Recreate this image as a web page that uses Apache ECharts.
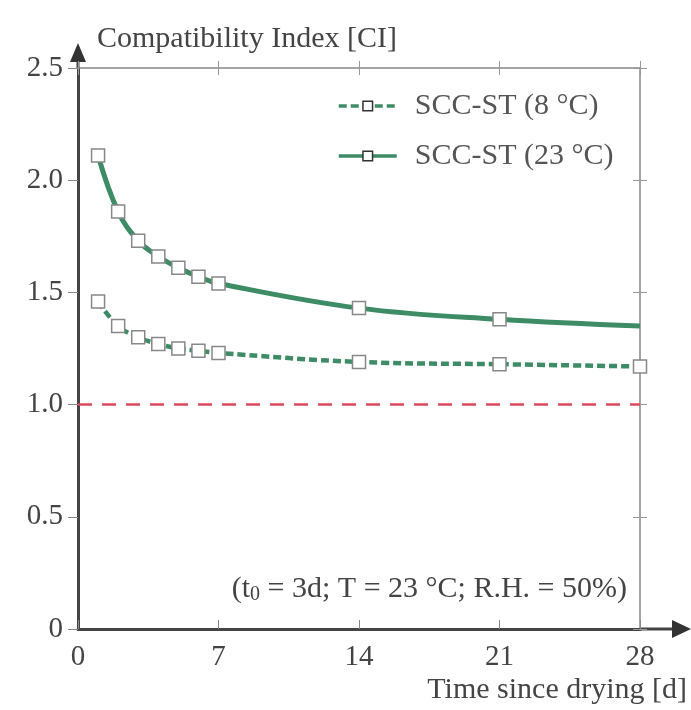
<!DOCTYPE html>
<html>
<head>
<meta charset="utf-8">
<script src="https://cdn.jsdelivr.net/npm/echarts@6/dist/echarts.min.js"></script>
<style>html,body{margin:0;padding:0;background:#fff;}#c{width:691px;height:710px;}</style>
</head>
<body>
<div id="c"></div>
<script>
var xTicks = [0, 7, 14, 21, 28];
var yTicks = [0, 0.5, 1.0, 1.5, 2.0, 2.5];
var days8 = [1, 2, 3, 4, 5, 6, 7, 14, 21, 28];
var ci8 = [1.46, 1.35, 1.30, 1.27, 1.25, 1.24, 1.23, 1.19, 1.18, 1.17];
var days23 = [1, 2, 3, 4, 5, 6, 7, 14, 21, 28];
var ci23 = [2.11, 1.86, 1.73, 1.66, 1.61, 1.57, 1.54, 1.43, 1.38, 1.35];
var marker23 = [true, true, true, true, true, true, true, true, true, false];
var refValue = 1.0;
var seriesNames = ['SCC-ST (8 °C)', 'SCC-ST (23 °C)'];

var FONT = '"Liberation Serif", "DejaVu Serif", serif';
var GREEN = '#3d8c66';
var TXT = '#444';

var chart = echarts.init(document.getElementById('c'));
var d8 = days8.map(function (d, i) { return [d, ci8[i]]; });
var d23 = days23.map(function (d, i) {
  var item = { value: [d, ci23[i]] };
  if (!marker23[i]) item.symbol = 'none';
  return item;
});

function boxX(pos, inside, showLine) {
  return {
    type: 'value', min: 0, max: 28, interval: 7, position: pos,
    axisLine: { show: showLine, onZero: false, lineStyle: { color: '#888', width: 1.5 } },
    axisTick: { show: true, inside: inside, length: 7, lineStyle: { color: '#999', width: 1 } },
    axisLabel: { show: false },
    splitLine: { show: false }
  };
}
function boxY(pos, inside, showLine) {
  return {
    type: 'value', min: 0, max: 2.5, interval: 0.5, position: pos,
    axisLine: { show: showLine, onZero: false, lineStyle: { color: '#888', width: 1.5 } },
    axisTick: { show: true, inside: inside, length: 7, lineStyle: { color: '#999', width: 1 } },
    axisLabel: { show: false },
    splitLine: { show: false }
  };
}

var option = {
  backgroundColor: '#fff',
  animation: false,
  grid: { left: 78, right: 51, top: 68, bottom: 81, show: false },
  legend: {
    orient: 'vertical',
    left: 332,
    top: 86,
    itemWidth: 58,
    itemHeight: 12,
    itemGap: 20,
    itemStyle: { borderColor: '#333', borderWidth: 1.5 },
    lineStyle: { width: 3.5 },
    textStyle: { fontFamily: FONT, fontSize: 30, color: '#555', padding: [0, 0, 0, 13] },
    data: seriesNames
  },
  xAxis: [{
    type: 'value', min: 0, max: 28, interval: 7,
    axisLine: { onZero: false, lineStyle: { color: '#444', width: 3 } },
    axisTick: { inside: true, length: 9, lineStyle: { color: '#888', width: 1 } },
    axisLabel: { fontFamily: FONT, fontSize: 29, color: TXT, margin: 14 },
    splitLine: { show: false }
  }, boxX('top', true, true), boxX('top', false, false)],
  yAxis: [{
    type: 'value', min: 0, max: 2.5, interval: 0.5,
    axisLine: { show: true, onZero: false, lineStyle: { color: '#444', width: 3 } },
    axisTick: { show: true, length: 10, lineStyle: { color: '#888', width: 1 } },
    axisLabel: {
      fontFamily: FONT, fontSize: 29, color: TXT, margin: 15,
      formatter: function (v) { return v === 0 ? '0' : v.toFixed(1); }
    },
    splitLine: { show: false }
  }, boxY('right', true, true), boxY('right', false, false)],
  series: [{
    name: seriesNames[0],
    type: 'line',
    data: d8,
    smooth: 0.4,
    symbol: 'rect',
    symbolSize: 13,
    z: 5,
    itemStyle: { color: '#fff', borderColor: '#888', borderWidth: 1.5 },
    lineStyle: { color: GREEN, width: 4.5, type: [8, 4] },
    markLine: {
      silent: true,
      symbol: ['none', 'none'],
      label: { show: false },
      lineStyle: { color: '#dc4a5e', width: 2.5, type: [14, 10] },
      data: [{ yAxis: refValue }]
    }
  }, {
    name: seriesNames[1],
    type: 'line',
    data: d23,
    smooth: 0.4,
    symbol: 'rect',
    symbolSize: 13,
    z: 6,
    itemStyle: { color: '#fff', borderColor: '#888', borderWidth: 1.5 },
    lineStyle: { color: GREEN, width: 5 }
  }]
};
chart.setOption(option);

var o = chart.convertToPixel({ gridIndex: 0 }, [0, 0]);
var xe = chart.convertToPixel({ gridIndex: 0 }, [28, 2.5]);
chart.setOption({
  graphic: [
    { type: 'line', shape: { x1: xe[0], y1: o[1], x2: 678, y2: o[1] }, style: { stroke: '#444', lineWidth: 3 } },
    { type: 'polygon', shape: { points: [[691, o[1]], [672, o[1] - 9], [672, o[1] + 9]] }, style: { fill: '#333' } },
    { type: 'line', shape: { x1: o[0], y1: xe[1], x2: o[0], y2: 58 }, style: { stroke: '#444', lineWidth: 3 } },
    { type: 'polygon', shape: { points: [[o[0], 43], [o[0] - 8, 62], [o[0] + 8, 62]] }, style: { fill: '#333' } },
    { type: 'text', left: 97, top: 24, style: { text: 'Compatibility Index [CI]', font: '30px ' + FONT, fill: TXT } },
    { type: 'text', right: 4, top: 675, style: { text: 'Time since drying [d]', font: '30px ' + FONT, fill: TXT } },
    {
      type: 'text', right: 64, top: 574,
      style: {
        text: '(t{sub|0} = 3d; T = 23 °C; R.H. = 50%)',
        font: '30px ' + FONT, fill: TXT,
        rich: { sub: { fontFamily: FONT, fontSize: 20, fill: TXT, verticalAlign: 'bottom', padding: [12, 0, 0, 0] } }
      }
    }
  ]
});
</script>
</body>
</html>
